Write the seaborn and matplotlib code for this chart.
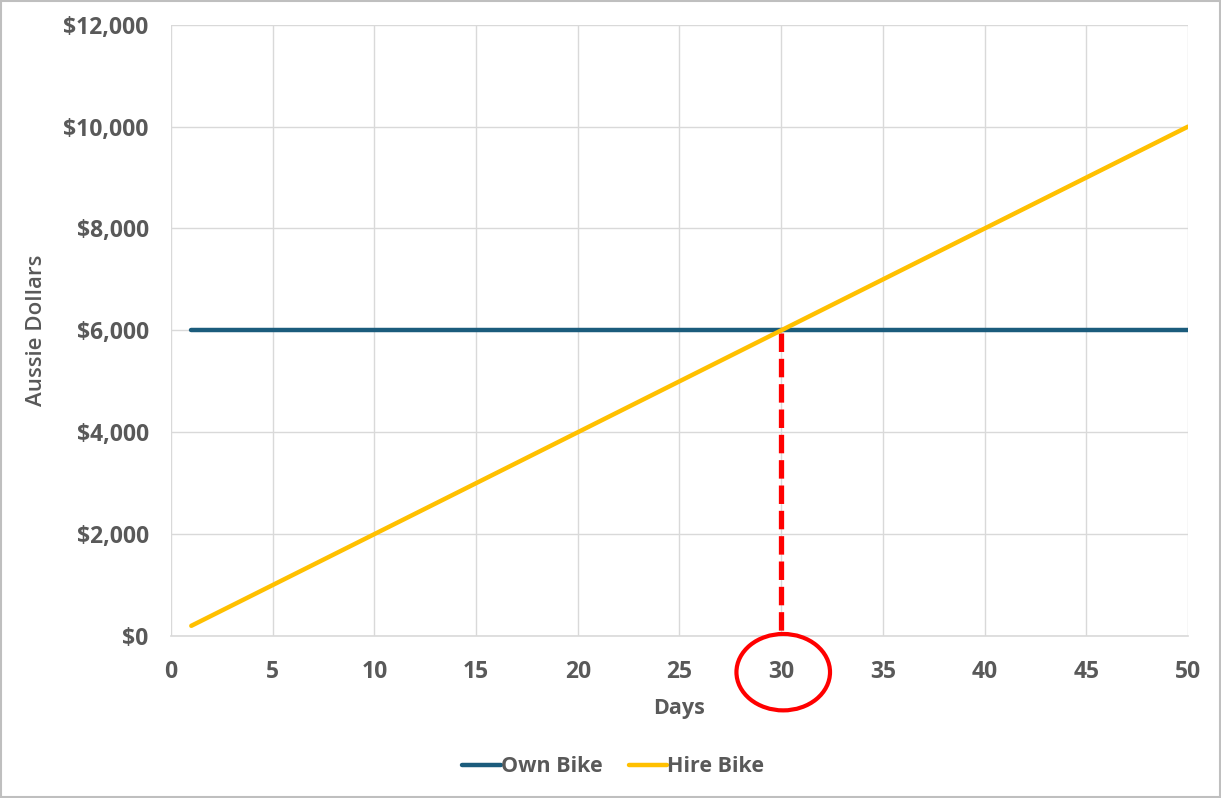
import numpy as np
import pandas as pd
import matplotlib
matplotlib.use("Agg")
import matplotlib.pyplot as plt
from matplotlib.patches import Ellipse, Rectangle
from matplotlib.ticker import FuncFormatter, MultipleLocator
import seaborn as sns

# ---------------------------------------------------------------------------
# Data
# ---------------------------------------------------------------------------
days = [1, 2, 3, 4, 5, 6, 7, 8, 9, 10,
        11, 12, 13, 14, 15, 16, 17, 18, 19, 20,
        21, 22, 23, 24, 25, 26, 27, 28, 29, 30,
        31, 32, 33, 34, 35, 36, 37, 38, 39, 40,
        41, 42, 43, 44, 45, 46, 47, 48, 49, 50]
own_bike = [6000] * 50
hire_bike = [200, 400, 600, 800, 1000, 1200, 1400, 1600, 1800, 2000,
             2200, 2400, 2600, 2800, 3000, 3200, 3400, 3600, 3800, 4000,
             4200, 4400, 4600, 4800, 5000, 5200, 5400, 5600, 5800, 6000,
             6200, 6400, 6600, 6800, 7000, 7200, 7400, 7600, 7800, 8000,
             8200, 8400, 8600, 8800, 9000, 9200, 9400, 9600, 9800, 10000]
series_names = ["Own Bike", "Hire Bike"]
break_even_day = 30
break_even_cost = 6000

df = pd.DataFrame({
    "Days": days * 2,
    "Cost": own_bike + hire_bike,
    "Series": [series_names[0]] * len(days) + [series_names[1]] * len(days),
})

# ---------------------------------------------------------------------------
# Style
# ---------------------------------------------------------------------------
sns.set_theme(style="white")
plt.rcParams["font.family"] = ["Open Sans", "DejaVu Sans"]
text_color = "#595959"
grid_color = "#D9D9D9"
palette = {"Own Bike": "#1B5C7C", "Hire Bike": "#FFC000"}

fig = plt.figure(figsize=(12.21, 7.98), dpi=100)
ax = fig.add_axes([0.140, 0.203, 0.833, 0.766])

sns.lineplot(data=df, x="Days", y="Cost", hue="Series", palette=palette,
             linewidth=3.2, ax=ax, legend=True)

# break-even marker, drawn top-down so the dashes start at the crossing
ax.plot([break_even_day, break_even_day], [break_even_cost - 60, 0],
        color="#FF0000", linewidth=3.8, linestyle=(0, (3.5, 1.3)), zorder=1)

ax.set_xlim(0, 50)
ax.set_ylim(0, 12000)
ax.xaxis.set_major_locator(MultipleLocator(5))
ax.yaxis.set_major_locator(MultipleLocator(2000))
ax.yaxis.set_major_formatter(FuncFormatter(lambda v, p: f"${v:,.0f}"))

ax.grid(True, color=grid_color, linewidth=1)
ax.set_axisbelow(True)
for side in ["top", "right", "left"]:
    ax.spines[side].set_visible(False)
ax.spines["bottom"].set_color(grid_color)
ax.spines["bottom"].set_linewidth(1.2)

ax.tick_params(axis="x", length=0, labelsize=16.5, labelcolor=text_color, pad=17)
ax.tick_params(axis="y", length=0, labelsize=16.5, labelcolor=text_color, pad=16)
for lbl in ax.get_xticklabels() + ax.get_yticklabels():
    lbl.set_fontweight("bold")

ax.set_xlabel("Days", fontsize=15.5, fontweight="bold", color=text_color, labelpad=10)
ax.set_ylabel("Aussie Dollars", fontsize=16, fontweight="semibold",
              color=text_color, labelpad=12)

# circle round the break-even tick label
circle = Ellipse((30.1, -710), width=4.6, height=1500, fill=False,
                 edgecolor="#FF0000", linewidth=3, clip_on=False, zorder=5)
ax.add_patch(circle)

leg = ax.legend(loc="upper center", bbox_to_anchor=(0.435, -0.165), ncol=2,
                frameon=False, handlelength=1.8, handletextpad=0.0,
                columnspacing=1.2, prop={"size": 15.5, "weight": "bold"})
for t in leg.get_texts():
    t.set_color(text_color)
for h in leg.get_lines():
    h.set_linewidth(3.2)

# light border round the whole chart
fig.patches.append(Rectangle((0.001, 0.001), 0.998, 0.998, transform=fig.transFigure,
                             fill=False, edgecolor="#BFBFBF", linewidth=1.5))

fig.savefig("out.png", dpi=100)
